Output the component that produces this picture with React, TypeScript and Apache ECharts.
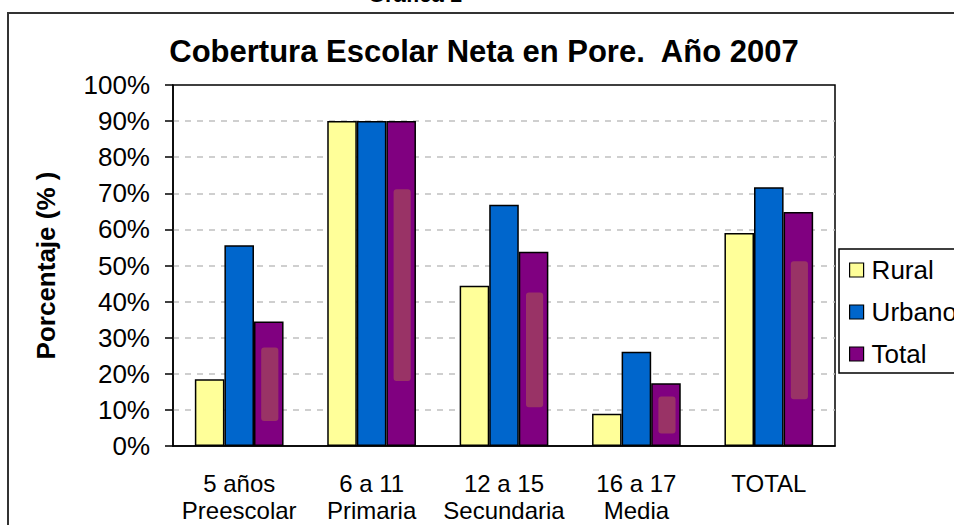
import React, { useEffect, useRef } from "react";
import * as echarts from "echarts";

const categoryTop = ["5 años", "6 a 11", "12 a 15", "16 a 17", "TOTAL"];
const categoryBottom = ["Preescolar", "Primaria", "Secundaria", "Media", ""];
const rural = [18.5, 90, 44.4, 8.9, 59];
const urbano = [55.6, 90, 66.8, 26.1, 71.7];
const total = [34.5, 90, 53.8, 17.4, 64.8];
const yTicks = { min: 0, max: 100, interval: 10 };

const FONT = "'Liberation Sans', Arial, sans-serif";

export default function App() {
  const ref = useRef<HTMLDivElement>(null);
  useEffect(() => {
    if (!ref.current) return;
    const chart = echarts.init(ref.current, undefined, { renderer: "svg" });
    const categories = categoryTop.map((t, i) =>
      categoryBottom[i] ? `${t}\n${categoryBottom[i]}` : t
    );
    const gap = 0.33;
    const barBorder = { borderColor: "#000", borderWidth: 1.5 };
    chart.setOption({
      animation: false,
      backgroundColor: "#fff",
      textStyle: { fontFamily: FONT },
      grid: {
        left: 173,
        right: 119,
        top: 85,
        bottom: 79,
        show: true,
        borderColor: "#000",
        borderWidth: 1.5,
        containLabel: false,
      },
      legend: {
        data: ["Rural", "Urbano", "Total"],
        orient: "vertical",
        left: 849,
        top: 257,
        padding: 0,
        itemWidth: 14,
        itemHeight: 14,
        itemGap: 16,
        icon: "rect",
        itemStyle: { borderColor: "#000", borderWidth: 1.2 },
        textStyle: {
          fontSize: 26,
          lineHeight: 26,
          color: "#000",
          fontFamily: FONT,
          padding: [0, 0, 0, 3],
        },
      },
      graphic: [
        {
          type: "rect",
          shape: { x: 8, y: 13, width: 1100, height: 700 },
          style: { fill: "none", stroke: "#333", lineWidth: 2 },
          silent: true,
        },
        {
          type: "rect",
          shape: { x: 839, y: 249, width: 200, height: 124 },
          style: { fill: "#fff", stroke: "#000", lineWidth: 1.5 },
          silent: true,
        },
        {
          type: "text",
          x: 484,
          y: 51,
          style: {
            text: "Cobertura Escolar Neta en Pore.  Año 2007",
            font: `bold 31px ${FONT}`,
            fill: "#000",
            textAlign: "center",
            textVerticalAlign: "middle",
          },
        },
        {
          type: "text",
          x: 415,
          y: 5,
          style: {
            text: "Gráfica 1",
            font: `bold 22px ${FONT}`,
            fill: "#000",
            textAlign: "center",
            textVerticalAlign: "bottom",
          },
        },
      ],
      xAxis: {
        type: "category",
        data: categories,
        axisLine: { lineStyle: { color: "#000", width: 1.5 } },
        axisTick: { length: 9, lineStyle: { color: "#000", width: 1.5 } },
        axisLabel: {
          margin: 24,
          color: "#000",
          fontSize: 24,
          lineHeight: 27,
          fontFamily: FONT,
          interval: 0,
        },
      },
      yAxis: {
        type: "value",
        min: yTicks.min,
        max: yTicks.max,
        interval: yTicks.interval,
        name: "Porcentaje (% )",
        nameLocation: "middle",
        nameGap: 114,
        nameTextStyle: {
          fontSize: 26,
          fontWeight: "bold",
          color: "#000",
          fontFamily: FONT,
        },
        axisLine: { show: true, lineStyle: { color: "#000", width: 1.5 } },
        axisTick: { show: true, length: 8, lineStyle: { color: "#000", width: 1.5 } },
        axisLabel: {
          formatter: "{value}%",
          margin: 23,
          color: "#000",
          fontSize: 26,
          fontFamily: FONT,
        },
        splitLine: {
          show: true,
          showMinLine: false,
          showMaxLine: false,
          lineStyle: { color: "#c0c0c0", type: [6, 6], width: 1.5 },
        },
      },
      series: [
        {
          name: "Rural",
          type: "bar",
          data: rural,
          barGap: "0%",
          barCategoryGap: `${gap * 100}%`,
          itemStyle: { color: "#FFFF99", ...barBorder },
        },
        {
          name: "Urbano",
          type: "bar",
          data: urbano,
          barGap: "0%",
          barCategoryGap: `${gap * 100}%`,
          itemStyle: { color: "#0066CC", ...barBorder },
        },
        {
          name: "Total",
          type: "bar",
          data: total,
          barGap: "0%",
          barCategoryGap: `${gap * 100}%`,
          itemStyle: { color: "#800080", ...barBorder },
        },
        {
          name: "TotalShade",
          type: "custom",
          silent: true,
          z: 3,
          data: total.map((v, i) => [i, v]),
          encode: { x: 0, y: 1 },
          renderItem: (params: any, api: any) => {
            const idx = api.value(0);
            const v = api.value(1);
            const band = api.size([1, 0])[0];
            const barW = (band * (1 - gap)) / 3;
            const base = api.coord([idx, 0]);
            const top = api.coord([idx, v * 0.79]);
            const bot = api.coord([idx, v * 0.2]);
            const cx = base[0] + barW + 1;
            const w = barW * 0.58;
            return {
              type: "rect",
              shape: { x: cx - w / 2, y: top[1], width: w, height: bot[1] - top[1], r: 3 },
              style: { fill: "#993366" },
            };
          },
        },
      ],
    });
    return () => chart.dispose();
  }, []);
  return (
    <div
      ref={ref}
      style={{ position: "absolute", left: 0, top: 0, width: 954, height: 525 }}
    />
  );
}
